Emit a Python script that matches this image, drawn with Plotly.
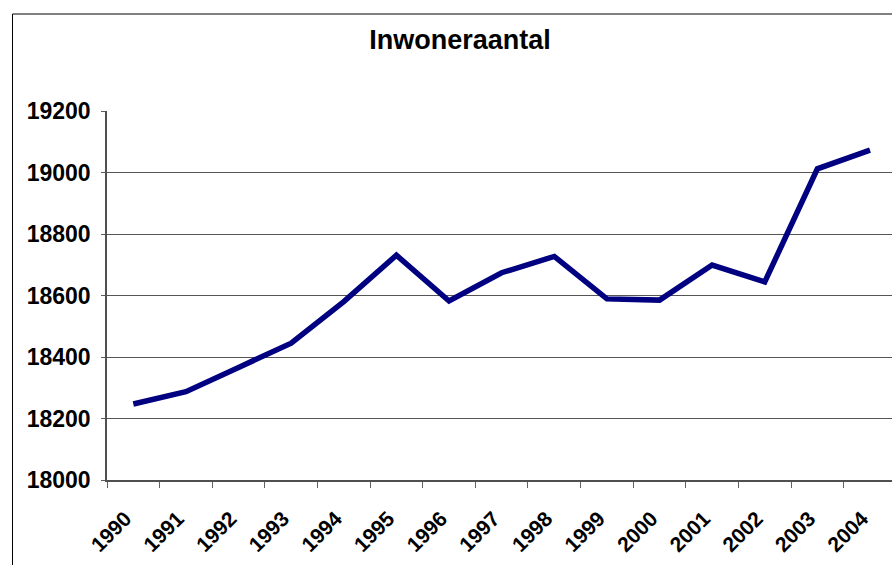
import plotly.graph_objects as go

years = ["1990", "1991", "1992", "1993", "1994", "1995", "1996", "1997",
         "1998", "1999", "2000", "2001", "2002", "2003", "2004"]
inwoners = [18247, 18287, 18366, 18445, 18580, 18731, 18582, 18674,
            18727, 18589, 18585, 18699, 18644, 19012, 19073]
y_ticks = [18000, 18200, 18400, 18600, 18800, 19000, 19200]
title_text = "Inwoneraantal"

W, H = 892, 565
L, R, T, B = 107, 0, 111, 85
plot_w = W - L - R
plot_h = H - T - B
cat_w = 52.62

fig = go.Figure()
fig.add_trace(go.Scatter(
    x=years, y=inwoners, mode="lines",
    line=dict(color="#000080", width=5.5),
    hoverinfo="skip", showlegend=False,
))

fig.update_layout(
    width=W, height=H,
    margin=dict(l=L, r=R, t=T, b=B),
    paper_bgcolor="white", plot_bgcolor="white",
    title=dict(
        text=title_text,
        x=460 / W, xref="container", xanchor="center",
        y=1 - 40 / H, yref="container", yanchor="middle",
        font=dict(family="Liberation Sans, Arial", size=27, color="black", weight="bold"),
    ),
    xaxis=dict(
        type="category",
        range=[-0.5, -0.5 + plot_w / cat_w],
        showgrid=False,
        showline=True, linecolor="#505050", linewidth=2,
        ticks="outside", tickson="boundaries", ticklen=6, tickcolor="#606060", tickwidth=1,
        tickangle=-45,
        tickfont=dict(family="Liberation Sans, Arial", size=21, color="black", weight="bold"),
        ticklabelstandoff=16,
        ticklabelshift=-8,
    ),
    yaxis=dict(
        range=[18000, 19200],
        tickvals=y_ticks,
        ticktext=[str(v) for v in y_ticks],
        showgrid=True, gridcolor="#555555", gridwidth=1,
        showline=True, linecolor="#505050", linewidth=1.5,
        ticks="outside", ticklen=4, tickcolor="#606060", tickwidth=1,
        tickfont=dict(family="Liberation Sans, Arial", size=23, color="black", weight="bold"),
        ticklabelstandoff=6,
        zeroline=False,
    ),
)

# outer chart frame (extends beyond the cropped right and bottom edges)
fig.add_shape(
    type="rect", xref="paper", yref="paper",
    x0=(12.5 - L) / plot_w, x1=1.2,
    y0=-0.6, y1=(H - B - 14) / plot_h,
    line=dict(color="black", width=1), fillcolor="rgba(0,0,0,0)",
    layer="above",
)

fig.write_html(
    "out.html",
    config={"displayModeBar": False},
    post_script="document.body.style.margin='0';document.body.style.padding='0';document.body.style.overflow='hidden';",
)
